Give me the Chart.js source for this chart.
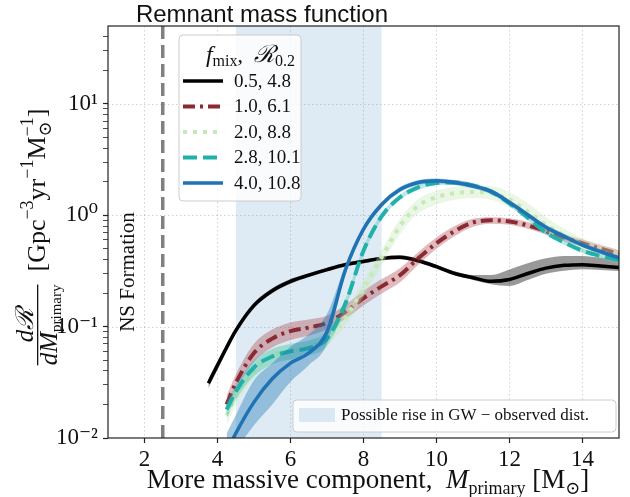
<!DOCTYPE html>
<html>
<head>
<meta charset="utf-8">
<script src="https://cdn.jsdelivr.net/npm/chart.js@4.4.1/dist/chart.umd.min.js"></script>
<style>
  html, body { margin: 0; padding: 0; background: #fff; }
</style>
</head>
<body>
<canvas id="massChart" width="630" height="497"></canvas>
<script>
/* #region  DATA */
const massGrid = [3.75, 4.0, 4.25, 4.5, 5.0, 5.5, 6.0, 6.5, 7.0, 7.5, 8.0, 8.5, 9.0, 9.5, 10.0, 10.5, 11.0, 11.5, 12.0, 12.5, 13.0, 13.5, 14.0, 14.5, 15.0];

// f_mix = 0.5
const rate05 = [0.031, 0.045, 0.065, 0.092, 0.155, 0.21, 0.255, 0.29, 0.325, 0.36, 0.385, 0.41, 0.42, 0.39, 0.345, 0.30, 0.275, 0.255, 0.265, 0.30, 0.335, 0.355, 0.36, 0.35, 0.34];
const rate05Lo = [0.028, 0.041, 0.06, 0.086, 0.146, 0.199, 0.243, 0.278, 0.312, 0.345, 0.37, 0.393, 0.403, 0.374, 0.33, 0.287, 0.262, 0.24, 0.232, 0.262, 0.298, 0.318, 0.328, 0.322, 0.315];
const rate05Hi = [0.034, 0.049, 0.07, 0.098, 0.164, 0.221, 0.267, 0.302, 0.338, 0.375, 0.40, 0.427, 0.437, 0.406, 0.36, 0.314, 0.29, 0.29, 0.325, 0.37, 0.41, 0.43, 0.43, 0.415, 0.40];

// f_mix = 1.0
const rate10 = [null, null, 0.020, 0.031, 0.058, 0.078, 0.091, 0.098, 0.108, 0.135, 0.18, 0.23, 0.29, 0.41, 0.56, 0.72, 0.86, 0.90, 0.88, 0.81, 0.72, 0.63, 0.56, 0.50, 0.45];
const rate10Lo = [null, null, 0.017, 0.026, 0.048, 0.065, 0.076, 0.083, 0.094, 0.117, 0.155, 0.198, 0.25, 0.36, 0.50, 0.65, 0.79, 0.84, 0.82, 0.755, 0.67, 0.585, 0.52, 0.465, 0.42];
const rate10Hi = [null, null, 0.024, 0.037, 0.07, 0.094, 0.109, 0.116, 0.125, 0.156, 0.21, 0.268, 0.335, 0.465, 0.63, 0.80, 0.93, 0.96, 0.94, 0.87, 0.775, 0.68, 0.605, 0.54, 0.485];

// f_mix = 2.0
const rate20 = [null, null, 0.016, 0.024, 0.04, 0.055, 0.06, 0.066, 0.08, 0.12, 0.22, 0.42, 0.80, 1.22, 1.45, 1.58, 1.62, 1.58, 1.38, 1.08, 0.82, 0.66, 0.54, 0.47, 0.42];
const rate20Lo = [null, null, 0.013, 0.02, 0.034, 0.047, 0.051, 0.056, 0.068, 0.10, 0.185, 0.355, 0.68, 1.04, 1.25, 1.38, 1.42, 1.38, 1.18, 0.93, 0.71, 0.575, 0.47, 0.41, 0.37];
const rate20Hi = [null, null, 0.019, 0.028, 0.046, 0.063, 0.069, 0.076, 0.092, 0.14, 0.255, 0.49, 0.93, 1.40, 1.66, 1.80, 1.85, 1.82, 1.62, 1.28, 0.96, 0.76, 0.62, 0.54, 0.48];

// f_mix = 2.8
const rate28 = [null, null, 0.018, 0.026, 0.043, 0.054, 0.06, 0.064, 0.078, 0.16, 0.48, 0.98, 1.45, 1.78, 1.95, 1.97, 1.85, 1.62, 1.28, 0.95, 0.70, 0.57, 0.48, 0.43, 0.395];
const rate28Lo = [null, null, 0.015, 0.022, 0.036, 0.046, 0.051, 0.055, 0.067, 0.145, 0.44, 0.92, 1.37, 1.69, 1.86, 1.88, 1.76, 1.54, 1.21, 0.90, 0.665, 0.54, 0.455, 0.41, 0.375];
const rate28Hi = [null, null, 0.021, 0.030, 0.05, 0.063, 0.07, 0.075, 0.09, 0.175, 0.52, 1.04, 1.53, 1.87, 2.04, 2.06, 1.94, 1.70, 1.35, 1.0, 0.74, 0.60, 0.505, 0.45, 0.415];

// f_mix = 4.0
const rate40 = [null, null, 0.0075, 0.011, 0.021, 0.034, 0.047, 0.058, 0.09, 0.32, 0.75, 1.25, 1.70, 1.97, 2.04, 1.97, 1.83, 1.64, 1.30, 1.01, 0.78, 0.645, 0.54, 0.47, 0.415];
const rate40Lo = [null, null, 0.005, 0.0075, 0.013, 0.02, 0.032, 0.045, 0.07, 0.29, 0.70, 1.18, 1.61, 1.87, 1.94, 1.87, 1.74, 1.56, 1.24, 0.96, 0.74, 0.61, 0.515, 0.45, 0.395];
const rate40Hi = [null, null, 0.011, 0.016, 0.033, 0.047, 0.066, 0.085, 0.13, 0.35, 0.80, 1.32, 1.79, 2.07, 2.14, 2.07, 1.92, 1.72, 1.37, 1.06, 0.82, 0.68, 0.57, 0.495, 0.435];

const seriesLabels = ["0.5, 4.8", "1.0, 6.1", "2.0, 8.8", "2.8, 10.1", "4.0, 10.8"];
const nsLimit = 2.5;
const riseRange = [4.5, 8.5];
const xTicks = [2, 4, 6, 8, 10, 12, 14];
const yMajor = [0.01, 0.1, 1, 10];
const yTickText = ["10\u207B\u00B2", "10\u207B\u00B9", "10\u2070", "10\u00B9"];
/* #endregion */

const xMin = 1, xMax = 15, yMin = 0.01, yMax = 50;
const SERIF = '"Liberation Serif", "DejaVu Serif", serif';

const series = [
  { mid: rate05, lo: rate05Lo, hi: rate05Hi, color: "#000000", band: "rgba(0,0,0,0.4)", dash: [], width: 3.5 },
  { mid: rate10, lo: rate10Lo, hi: rate10Hi, color: "#8c2a33", band: "rgba(165,45,55,0.33)", dash: [12, 5, 3, 5], width: 4 },
  { mid: rate20, lo: rate20Lo, hi: rate20Hi, color: "#c6e9b6", band: "rgba(195,232,180,0.35)", dash: [4, 6], width: 4 },
  { mid: rate28, lo: rate28Lo, hi: rate28Hi, color: "#20b2aa", band: "rgba(32,178,170,0.3)", dash: [14, 6], width: 4 },
  { mid: rate40, lo: rate40Lo, hi: rate40Hi, color: "#1f72b4", band: "rgba(31,119,180,0.4)", dash: [], width: 3.5 },
];

function pts(ys) {
  return massGrid.map((x, i) => ({ x: x, y: ys[i] })).filter((p) => p.y !== null);
}

// log tick positions (1..9 per decade), only the decades get a label and a grid line
let yTickValues = [];
for (let e = -2; e <= 1; e++) {
  for (let m = 1; m <= 9; m++) {
    const v = m * Math.pow(10, e);
    if (v < yMax) yTickValues.push(e < 0 ? +v.toFixed(3) : v);
  }
}
function isDecade(i) {
  return i !== undefined && i >= 0 && i < yTickValues.length && yMajor.indexOf(yTickValues[i]) >= 0;
}

/* #region  DATASETS */
const datasets = [];
datasets.push({
  data: [{ x: riseRange[0], y: yMax }, { x: riseRange[1], y: yMax }],
  fill: "start",
  backgroundColor: "rgba(31,119,180,0.15)",
  borderWidth: 0,
  pointRadius: 0,
  order: 1000,
});
datasets.push({
  data: [{ x: nsLimit, y: yMin }, { x: nsLimit, y: yMax }],
  borderColor: "#808080",
  borderWidth: 3.5,
  borderDash: [13, 6],
  pointRadius: 0,
  order: 999,
});
series.forEach((s, i) => {
  const base = 500 - i * 10;
  datasets.push({ data: pts(s.lo), borderWidth: 0, pointRadius: 0, fill: false, cubicInterpolationMode: "monotone", order: base });
  datasets.push({ data: pts(s.hi), borderWidth: 0, pointRadius: 0, fill: "-1", backgroundColor: s.band, cubicInterpolationMode: "monotone", order: base - 1 });
  datasets.push({
    data: pts(s.mid),
    borderColor: s.color,
    borderWidth: s.width,
    borderDash: s.dash,
    pointRadius: 0,
    fill: false,
    cubicInterpolationMode: "monotone",
    order: base - 2,
  });
});
/* #endregion */

/* #region  TEXT HELPERS */
function runsWidth(ctx, runs) {
  let w = 0;
  runs.forEach((r) => {
    ctx.font = r.font;
    if (!r.stay) w += ctx.measureText(r.t).width;
  });
  return w;
}
function drawRuns(ctx, runs, x, y) {
  runs.forEach((r) => {
    ctx.font = r.font;
    ctx.fillText(r.t, x, y + (r.dy || 0));
    if (!r.stay) x += ctx.measureText(r.t).width;
  });
  return x;
}
/* #endregion */

const decorPlugin = {
  id: "decor",
  beforeDatasetsDraw(chart) {
    // horizontal decade grid lines
    const ctx = chart.ctx;
    const area = chart.chartArea;
    const y = chart.scales.y;
    ctx.save();
    ctx.strokeStyle = "rgba(0,0,0,0.22)";
    ctx.lineWidth = 0.8;
    ctx.setLineDash([1.5, 2.5]);
    yMajor.forEach((v) => {
      if (v <= yMin) return;
      const py = Math.round(y.getPixelForValue(v)) + 0.5;
      ctx.beginPath();
      ctx.moveTo(area.left, py);
      ctx.lineTo(area.right, py);
      ctx.stroke();
    });
    ctx.restore();
  },
  afterDraw(chart) {
    const ctx = chart.ctx;
    const area = chart.chartArea;
    ctx.save();
    ctx.fillStyle = "#111";
    ctx.textBaseline = "alphabetic";
    ctx.textAlign = "left";

    // frame
    ctx.strokeStyle = "#222";
    ctx.lineWidth = 1.2;
    ctx.strokeRect(area.left, area.top, area.right - area.left, area.bottom - area.top);

    // title
    ctx.font = '24px "Liberation Sans", Arial, sans-serif';
    ctx.textAlign = "center";
    ctx.fillText("Remnant mass function", 262, 22);
    ctx.textAlign = "left";

    // x label
    const xRuns = [
      { t: "More massive component,  ", font: "27px " + SERIF },
      { t: "M", font: "italic 27px " + SERIF },
      { t: "primary", font: "18px " + SERIF, dy: 6 },
      { t: " [M", font: "27px " + SERIF },
      { t: "\u2299", font: "18px " + SERIF, dy: 6 },
      { t: "]", font: "27px " + SERIF },
    ];
    drawRuns(ctx, xRuns, 368 - runsWidth(ctx, xRuns) / 2, 488);

    // y label (rotated)
    const num = [{ t: "d\u211B", font: "italic 25px " + SERIF }];
    const den = [
      { t: "dM", font: "italic 25px " + SERIF },
      { t: "primary", font: "15px " + SERIF, dy: 4 },
    ];
    const unit = [
      { t: "  [Gpc", font: "26px " + SERIF },
      { t: "\u22123", font: "18px " + SERIF, dy: -12 },
      { t: "yr", font: "26px " + SERIF },
      { t: "\u22121", font: "18px " + SERIF, dy: -12 },
      { t: "M", font: "26px " + SERIF },
      { t: "\u2299", font: "18px " + SERIF, dy: 6, stay: true },
      { t: "\u22121", font: "18px " + SERIF, dy: -12 },
      { t: "]", font: "26px " + SERIF },
    ];
    const fracW = runsWidth(ctx, den);
    const numW = runsWidth(ctx, num);
    const total = fracW + runsWidth(ctx, unit);
    ctx.save();
    ctx.translate(45, 237);
    ctx.rotate(-Math.PI / 2);
    const u0 = -total / 2;
    drawRuns(ctx, num, u0 + (fracW - numW) / 2, -12);
    ctx.fillRect(u0, -8, fracW, 1.3);
    drawRuns(ctx, den, u0, 12);
    drawRuns(ctx, unit, u0 + fracW, 0);
    ctx.restore();

    // NS formation
    ctx.save();
    const nsX = chart.scales.x.getPixelForValue(1.55);
    ctx.translate(nsX, 272);
    ctx.rotate(-Math.PI / 2);
    ctx.font = "21px " + SERIF;
    ctx.textAlign = "center";
    ctx.textBaseline = "middle";
    ctx.fillText("NS Formation", 0, 0);
    ctx.restore();

    // legend with series
    ctx.save();
    ctx.beginPath();
    ctx.roundRect(179, 35, 122, 166, 4);
    ctx.fillStyle = "rgba(255,255,255,0.8)";
    ctx.fill();
    ctx.strokeStyle = "#cccccc";
    ctx.lineWidth = 1;
    ctx.stroke();
    ctx.fillStyle = "#111";
    const tRuns = [
      { t: "f", font: "italic 24px " + SERIF },
      { t: "mix", font: "16px " + SERIF, dy: 4 },
      { t: ",  ", font: "22px " + SERIF },
      { t: "\u211B", font: "italic 24px " + SERIF },
      { t: "0.2", font: "16px " + SERIF, dy: 4 },
    ];
    drawRuns(ctx, tRuns, 295 - runsWidth(ctx, tRuns), 62);
    const rowY = [81, 106.5, 132, 157.5, 183];
    series.forEach((s, i) => {
      ctx.beginPath();
      ctx.setLineDash(s.dash);
      ctx.strokeStyle = s.color;
      ctx.lineWidth = s.width;
      ctx.moveTo(183, rowY[i]);
      ctx.lineTo(223, rowY[i]);
      ctx.stroke();
      ctx.setLineDash([]);
      ctx.font = "19px " + SERIF;
      ctx.textBaseline = "middle";
      ctx.fillText(seriesLabels[i], 234, rowY[i] + 1);
    });
    ctx.restore();

    // legend with span
    ctx.save();
    ctx.beginPath();
    ctx.roundRect(293, 400, 323, 32, 4);
    ctx.fillStyle = "rgba(255,255,255,0.8)";
    ctx.fill();
    ctx.strokeStyle = "#cccccc";
    ctx.lineWidth = 1;
    ctx.stroke();
    ctx.fillStyle = "rgba(31,119,180,0.15)";
    ctx.fillRect(299, 408, 36, 14);
    ctx.fillStyle = "#111";
    ctx.font = "17px " + SERIF;
    ctx.textBaseline = "middle";
    ctx.fillText("Possible rise in GW \u2212 observed dist.", 341, 416);
    ctx.restore();

    ctx.restore();
  },
};

Chart.defaults.font.family = SERIF;
Chart.defaults.color = "#111";

const massChart = new Chart(document.getElementById("massChart").getContext("2d"), {
  type: "line",
  data: { datasets: datasets },
  options: {
    responsive: false,
    animation: false,
    layout: { padding: { left: 0, right: 11, top: 26, bottom: 0 } },
    plugins: { legend: { display: false }, tooltip: { enabled: false }, title: { display: false } },
    elements: { line: { tension: 0 } },
    scales: {
      x: {
        type: "linear",
        min: xMin,
        max: xMax,
        afterBuildTicks: (s) => {
          s.ticks = xTicks.map((v) => ({ value: v }));
        },
        afterFit: (s) => {
          s.height = 59;
        },
        ticks: { autoSkip: false, maxRotation: 0, font: { size: 23 }, padding: 3, color: "#111" },
        grid: { color: "rgba(0,0,0,0.22)", lineWidth: 0.8, tickColor: "#222", tickLength: 5, tickWidth: 1.2, tickBorderDash: [] },
        border: { display: false, dash: [1.5, 2.5] },
      },
      y: {
        type: "logarithmic",
        min: yMin,
        max: yMax,
        afterBuildTicks: (s) => {
          s.ticks = yTickValues.map((v) => ({ value: v }));
        },
        afterFit: (s) => {
          s.width = 108;
        },
        ticks: {
          autoSkip: false,
          font: { size: 23 },
          padding: 5,
          color: "#111",
          callback: (value) => {
            const i = yMajor.indexOf(value);
            return i >= 0 ? yTickText[i] : "";
          },
        },
        grid: {
          drawOnChartArea: false,
          tickColor: "#222",
          tickLength: 5,
          tickWidth: (c) => (isDecade(c.index) ? 1.2 : 0.8),
          tickBorderDash: [],
        },
        border: { display: false },
      },
    },
  },
  plugins: [decorPlugin],
});
</script>
</body>
</html>
